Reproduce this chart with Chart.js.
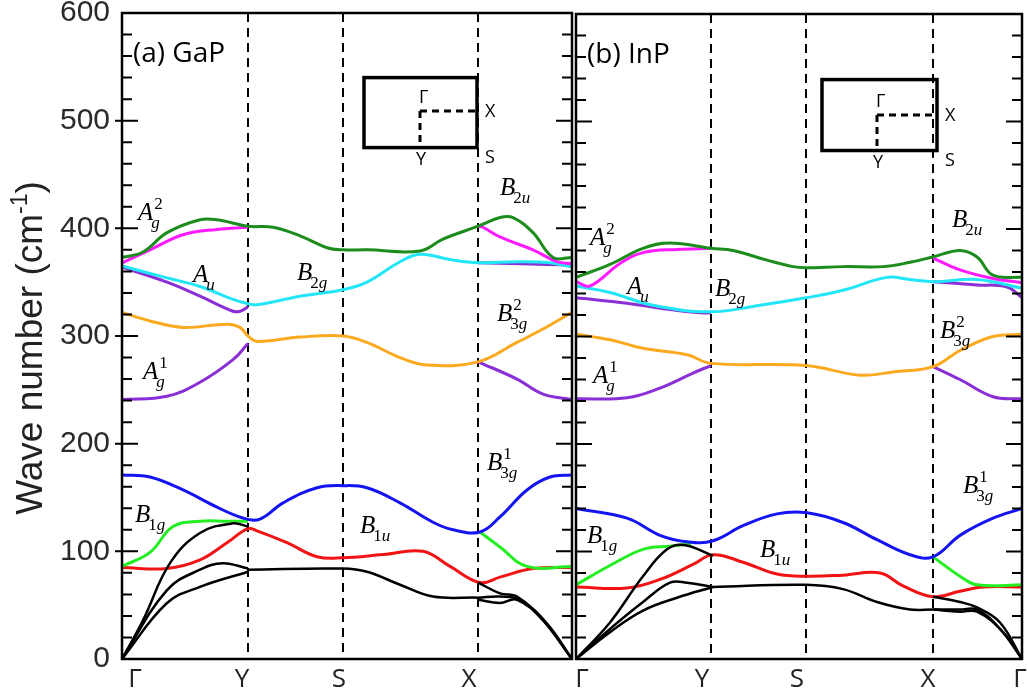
<!DOCTYPE html>
<html>
<head>
<meta charset="utf-8">
<script src="https://cdn.jsdelivr.net/npm/chart.js@4.4.1/dist/chart.umd.min.js"></script>
<style>
  body { margin: 0; background: #fff; }
  #wrap { position: relative; width: 1028px; height: 692px; }
  canvas { position: absolute; top: 0; }
</style>
</head>
<body>
<div id="wrap">
  <canvas id="gap" width="574" height="692" style="left:0"></canvas>
  <canvas id="inp" width="454" height="692" style="left:574px"></canvas>
</div>
<script>
// high-symmetry path
const kLabels = ["Γ", "Y", "S", "X", "Γ"];
const kGaP = [0, 1.26, 2.21, 3.56, 4.5];
const kInP = [0, 1.35, 2.3, 3.57, 4.46];

// ---- GaP bands [k, cm-1] ----
const gapDarkGreen = [[0,373],[0.21,378],[0.45,396],[0.78,408],[0.95,408],[1.26,402],[1.51,401],[1.78,393],[2.05,382],[2.21,380],[2.45,380],[2.98,379],[3.21,390],[3.56,402],[3.78,410],[3.91,410],[4.11,396],[4.31,373],[4.5,373]];
const gapMagentaA = [[0,368],[0.28,380],[0.61,394],[0.95,399],[1.26,401]];
const gapMagentaB = [[3.56,402],[3.61,401],[3.78,392],[4.11,380],[4.35,369],[4.5,367]];
const gapCyan = [[0,365],[0.45,354],[0.78,346],[1.11,334],[1.26,330],[1.35,329],[1.78,337],[2.21,343],[2.45,350],[2.78,369],[2.98,376],[3.28,371],[3.56,368],[3.95,369],[4.28,368],[4.5,364]];
const gapPurpleAu = [[0,364],[0.45,350],[0.78,337],[1.11,323],[1.18,323],[1.26,327]];
const gapPurpleAu2 = [[3.56,368],[4.0,367],[4.5,366]];
const gapOrange = [[0,322],[0.28,314],[0.61,308],[1.05,311],[1.18,308],[1.26,300],[1.35,295],[1.78,299],[2.21,300],[2.45,294],[2.78,280],[3.05,273],[3.56,276],[3.95,294],[4.2,306],[4.5,322]];
const gapPurpleAg = [[0,241],[0.45,244],[0.78,257],[1.11,278],[1.26,293]];
const gapPurpleAg2 = [[3.56,276],[3.95,260],[4.21,246],[4.5,241]];
const gapBlue = [[0,171],[0.28,169],[0.61,157],[0.95,141],[1.21,131],[1.38,130],[1.61,145],[1.95,159],[2.21,161],[2.45,159],[2.78,145],[3.11,127],[3.31,120],[3.58,118],[3.78,132],[4.05,157],[4.28,169],[4.5,171]];
const gapGreenA = [[0,86],[0.28,99],[0.51,123],[0.78,128],[1.05,128],[1.26,128]];
const gapGreenB = [[3.58,118],[3.78,104],[4.05,86],[4.5,86]];
const gapRed = [[0,85],[0.45,84],[0.78,92],[1.05,108],[1.26,121],[1.35,119],[1.65,108],[1.95,95],[2.21,94],[2.61,97],[3.01,100],[3.28,86],[3.58,71],[3.78,76],[4.11,84],[4.5,85]];
const gapAcoustic1 = [[0,0],[0.21,36],[0.48,89],[0.78,117],[1.11,126],[1.26,123]];
const gapAcoustic2 = [[0,0],[0.45,64],[0.78,83],[1.01,89],[1.26,84]];
const gapAcoustic3 = [[0,0],[0.45,52],[0.78,67],[1.26,81]];
const gapAcousticYSX = [[1.26,83],[2.21,84],[2.45,81],[2.78,69],[3.11,58],[3.56,57]];
const gapAcousticX1 = [[3.56,71],[3.78,61],[3.95,58],[4.21,36],[4.5,0]];
const gapAcousticX2 = [[3.56,57],[3.78,58],[3.98,55],[4.25,33],[4.5,0]];
const gapAcousticX3 = [[3.56,55],[3.78,52],[3.95,55],[4.21,36],[4.5,0]];

// ---- InP bands [k, cm-1] ----
const inpDarkGreen = [[0,355],[0.34,367],[0.67,382],[0.94,387],[1.35,382],[1.57,380],[1.91,371],[2.17,365],[2.3,364],[2.67,365],[3.07,365],[3.34,369],[3.57,374],[3.84,380],[4.01,374],[4.17,357],[4.46,355]];
const inpMagentaA = [[0,351],[0.14,347],[0.44,368],[0.67,378],[1.01,381],[1.35,382]];
const inpMagentaB = [[3.57,373],[3.84,362],[4.17,354],[4.46,350]];
const inpCyan = [[0,347],[0.34,341],[0.77,329],[1.35,323],[1.84,329],[2.3,336],[2.67,343],[3.11,355],[3.34,353],[3.57,351],[4.01,353],[4.46,345]];
const inpPurpleAu = [[0,336],[0.51,331],[0.94,325],[1.24,322],[1.35,322]];
const inpPurpleAu2 = [[3.57,351],[4.01,348],[4.31,346],[4.46,336]];
const inpOrange = [[0,302],[0.34,297],[0.67,289],[1.11,283],[1.35,275],[2.3,273],[2.84,264],[3.17,267],[3.57,272],[3.84,287],[4.17,300],[4.46,302]];
const inpPurpleAg = [[0,242],[0.51,243],[0.84,252],[1.17,266],[1.35,273]];
const inpPurpleAg2 = [[3.57,272],[3.84,260],[4.17,244],[4.46,242]];
const inpBlue = [[0,140],[0.51,131],[0.84,115],[1.11,109],[1.37,110],[1.67,124],[2.01,135],[2.31,136],[2.67,127],[3.01,111],[3.34,97],[3.57,95],[3.84,115],[4.17,131],[4.46,140]];
const inpGreenA = [[0,69],[0.34,87],[0.67,102],[0.94,105],[1.15,107]];
const inpGreenB = [[3.57,95],[3.84,77],[4.01,69],[4.46,69]];
const inpRed = [[0,67],[0.51,66],[0.84,74],[1.17,88],[1.37,97],[1.67,90],[2.01,79],[2.31,77],[2.67,78],[3.04,80],[3.27,68],[3.57,58],[3.84,63],[4.07,67],[4.46,67]];
const inpAcoustic1 = [[0,0],[0.34,34],[0.67,77],[0.91,102],[1.08,106],[1.37,96]];
const inpAcoustic2 = [[0,0],[0.34,28],[0.67,53],[0.94,71],[1.11,71],[1.37,67]];
const inpAcoustic3 = [[0,0],[0.34,25],[0.67,45],[1.01,57],[1.37,67]];
const inpAcousticYSX = [[1.37,67],[2.3,69],[2.67,65],[3.01,53],[3.34,46],[3.57,46]];
const inpAcousticX1 = [[3.57,58],[3.84,53],[4.01,48],[4.24,34],[4.46,0]];
const inpAcousticX2 = [[3.57,46],[3.84,46],[4.01,46],[4.24,28],[4.46,0]];
const inpAcousticX3 = [[3.57,46],[3.84,44],[4.01,44],[4.27,25],[4.46,0]];

// mode labels: [letter, subscript, superscript, k, cm-1]
const gapModes = [["A","g","2",0.16,408],["A","u","",0.71,350],["B","2g","",1.75,352],["B","2u","",3.78,431],["B","3g","2",3.75,314],["A","g","1",0.21,260],["B","1g","",0.13,127],["B","1u","",2.38,117],["B","3g","1",3.65,176]];
const inpModes = [["A","g","2",0.14,385],["A","u","",0.51,340],["B","2g","",1.39,338],["B","2u","",3.76,402],["B","3g","2",3.64,299],["A","g","1",0.17,257],["B","1g","",0.11,108],["B","1u","",1.84,95],["B","3g","1",3.87,154]];

const C = {
  dkgreen: "#1c8c1c", magenta: "#ff1aff", cyan: "#22e6f8", purple: "#8a2fd6",
  orange: "#fba91f", blue: "#1414f2", green: "#22ee22", red: "#f21414", black: "#000"
};

function band(pts, color) {
  return {
    data: pts.map(([x, y]) => ({ x, y })),
    borderColor: color,
    borderWidth: color === C.black ? 2.5 : 3,
    pointRadius: 0,
    tension: 0.4,
    fill: false
  };
}

function drawSmall(ctx, s, px, py) {
  for (const ch of s) {
    ctx.font = (/\d/.test(ch) ? "" : "italic ") + "17px 'Liberation Serif'";
    ctx.fillText(ch, px, py);
    px += ctx.measureText(ch).width;
  }
}

const panelDeco = {
  id: "panelDeco",
  afterDraw(chart, args, opts) {
    const { ctx, chartArea: a, scales: { x, y } } = chart;
    ctx.save();
    ctx.strokeStyle = "#000";
    ctx.fillStyle = "#000";
    ctx.lineWidth = 2.5;
    ctx.strokeRect(a.left, a.top, a.right - a.left, a.bottom - a.top);

    // inward ticks on both vertical axes
    ctx.lineWidth = 2;
    for (let v = 20; v < 600; v += 20) {
      const py = y.getPixelForValue(v);
      const major = v % 100 === 0;
      const len = major ? 16 : 10;
      ctx.beginPath();
      ctx.moveTo(a.left - (major && opts.outTicks ? 7 : 0), py);
      ctx.lineTo(a.left + len, py);
      ctx.moveTo(a.right, py);
      ctx.lineTo(a.right - len, py);
      ctx.stroke();
    }

    // k-point labels under the axis
    ctx.font = "26px 'Open Sans'";
    ctx.fillStyle = "#222";
    ctx.textAlign = "center";
    ctx.textBaseline = "alphabetic";
    opts.kOffsets.forEach((dx, i) => {
      if (dx === null) return;
      ctx.fillText(kLabels[i], x.getPixelForValue(opts.kPts[i]) + dx, a.bottom + 28);
    });
    ctx.fillStyle = "#000";

    // y axis title with superscript
    if (opts.yTitle) {
      ctx.save();
      ctx.translate(32, 348);
      ctx.rotate(-Math.PI / 2);
      ctx.textAlign = "left";
      ctx.textBaseline = "middle";
      ctx.fillStyle = "#222";
      const big = "37px 'Liberation Sans'", small = "23px 'Liberation Sans'";
      ctx.font = big;
      const w1 = ctx.measureText("Wave number (cm").width, w3 = ctx.measureText(")").width;
      ctx.font = small;
      const w2 = ctx.measureText("-1").width;
      let sx = -(w1 + w2 + w3) / 2;
      ctx.font = big; ctx.fillText("Wave number (cm", sx, 0); sx += w1;
      ctx.font = small; ctx.fillText("-1", sx, -11); sx += w2;
      ctx.font = big; ctx.fillText(")", sx, 0);
      ctx.restore();
    }

    // panel title
    ctx.font = "28px 'Open Sans'";
    ctx.textAlign = "left";
    ctx.textBaseline = "alphabetic";
    ctx.fillText(opts.title, a.left + 11, a.top + 49);

    // mode labels
    opts.modes.forEach(([base, sub, sup, k, v]) => {
      const px = x.getPixelForValue(k), py = y.getPixelForValue(v);
      ctx.font = "italic 25px 'Liberation Serif'";
      ctx.fillText(base, px, py);
      const w = ctx.measureText(base).width;
      drawSmall(ctx, sub, px + w - 2, py + 8);
      if (sup) drawSmall(ctx, sup, px + w + 1, py - 11);
    });

    // Brillouin zone inset
    const [k0, k1, v0, v1, kG, vG] = opts.inset;
    const L = x.getPixelForValue(k0), R = x.getPixelForValue(k1);
    const T = y.getPixelForValue(v1), B = y.getPixelForValue(v0);
    const gx = x.getPixelForValue(kG), gy = y.getPixelForValue(vG);
    ctx.lineWidth = 3.5;
    ctx.strokeRect(L, T, R - L, B - T);
    ctx.lineWidth = 3;
    ctx.setLineDash([7, 5]);
    ctx.beginPath();
    ctx.moveTo(gx, gy); ctx.lineTo(R, gy);
    ctx.moveTo(gx, gy); ctx.lineTo(gx, B);
    ctx.stroke();
    ctx.setLineDash([]);
    ctx.font = "18px 'Open Sans'";
    ctx.textAlign = "left";
    ctx.textBaseline = "alphabetic";
    ctx.fillText("Γ", gx - 1, gy - 8);
    ctx.textBaseline = "middle";
    ctx.fillText("X", R + 8, gy + 1);
    ctx.textBaseline = "top";
    ctx.fillText("S", R + 8, B + 1);
    ctx.textAlign = "center";
    ctx.fillText("Y", gx + 1, B + 3);
    ctx.restore();
  }
};

function makeChart(id, kPts, bands, deco, showY, pad) {
  return new Chart(document.getElementById(id), {
    type: "line",
    data: { datasets: bands.map(([pts, color]) => band(pts, color)) },
    options: {
      responsive: false,
      animation: false,
      layout: { padding: pad },
      plugins: { legend: { display: false }, tooltip: { enabled: false }, panelDeco: { ...deco, kPts } },
      scales: {
        x: {
          type: "linear",
          min: 0,
          max: kPts[kPts.length - 1],
          afterBuildTicks: (s) => { s.ticks = kPts.map((v) => ({ value: v })); },
          afterFit: (s) => { s.height = 33; s.paddingLeft = 0; s.paddingRight = 0; },
          ticks: { display: false, autoSkip: false },
          grid: {
            drawTicks: false,
            lineWidth: 2,
            color: (c) => (c.index === 0 || c.index === kPts.length - 1 ? "rgba(0,0,0,0)" : "#000")
          },
          border: { display: false, dash: [9, 6] }
        },
        y: {
          display: showY,
          min: 0,
          max: 600,
          afterFit: (s) => { s.width = showY ? 122 : 0; s.paddingTop = 0; s.paddingBottom = 0; },
          ticks: {
            stepSize: 100,
            padding: 12,
            color: "#2a2a2a",
            font: { family: "Liberation Sans", size: 30 }
          },
          grid: { display: false, drawTicks: false },
          border: { display: false },
          title: { display: false }
        }
      }
    },
    plugins: [panelDeco]
  });
}

makeChart("gap", kGaP, [
  [gapAcoustic1, C.black], [gapAcoustic2, C.black], [gapAcoustic3, C.black], [gapAcousticYSX, C.black],
  [gapAcousticX1, C.black], [gapAcousticX2, C.black], [gapAcousticX3, C.black],
  [gapDarkGreen, C.dkgreen], [gapMagentaA, C.magenta], [gapMagentaB, C.magenta],
  [gapCyan, C.cyan], [gapPurpleAu, C.purple], [gapPurpleAu2, C.purple],
  [gapOrange, C.orange], [gapPurpleAg, C.purple], [gapPurpleAg2, C.purple],
  [gapBlue, C.blue], [gapGreenA, C.green], [gapGreenB, C.green], [gapRed, C.red]
], { title: "(a) GaP", modes: gapModes, outTicks: true, yTitle: true, kOffsets: [13, -6, -4, -9, null],
     inset: [2.42, 3.55, 475, 540, 2.98, 509] },
  true, { left: 0, right: 2, top: 13, bottom: 0 });

makeChart("inp", kInP, [
  [inpAcoustic1, C.black], [inpAcoustic2, C.black], [inpAcoustic3, C.black], [inpAcousticYSX, C.black],
  [inpAcousticX1, C.black], [inpAcousticX2, C.black], [inpAcousticX3, C.black],
  [inpDarkGreen, C.dkgreen], [inpMagentaA, C.magenta], [inpMagentaB, C.magenta],
  [inpCyan, C.cyan], [inpPurpleAu, C.purple], [inpPurpleAu2, C.purple],
  [inpOrange, C.orange], [inpPurpleAg, C.purple], [inpPurpleAg2, C.purple],
  [inpBlue, C.blue], [inpGreenA, C.green], [inpGreenB, C.green], [inpRed, C.red]
], { title: "(b) InP", modes: inpModes, outTicks: false, yTitle: false, kOffsets: [6, -9, -9, -5, -2],
     inset: [2.46, 3.61, 473, 539, 3.01, 506] },
  false, { left: 2, right: 6, top: 14, bottom: 0 });
</script>
</body>
</html>
